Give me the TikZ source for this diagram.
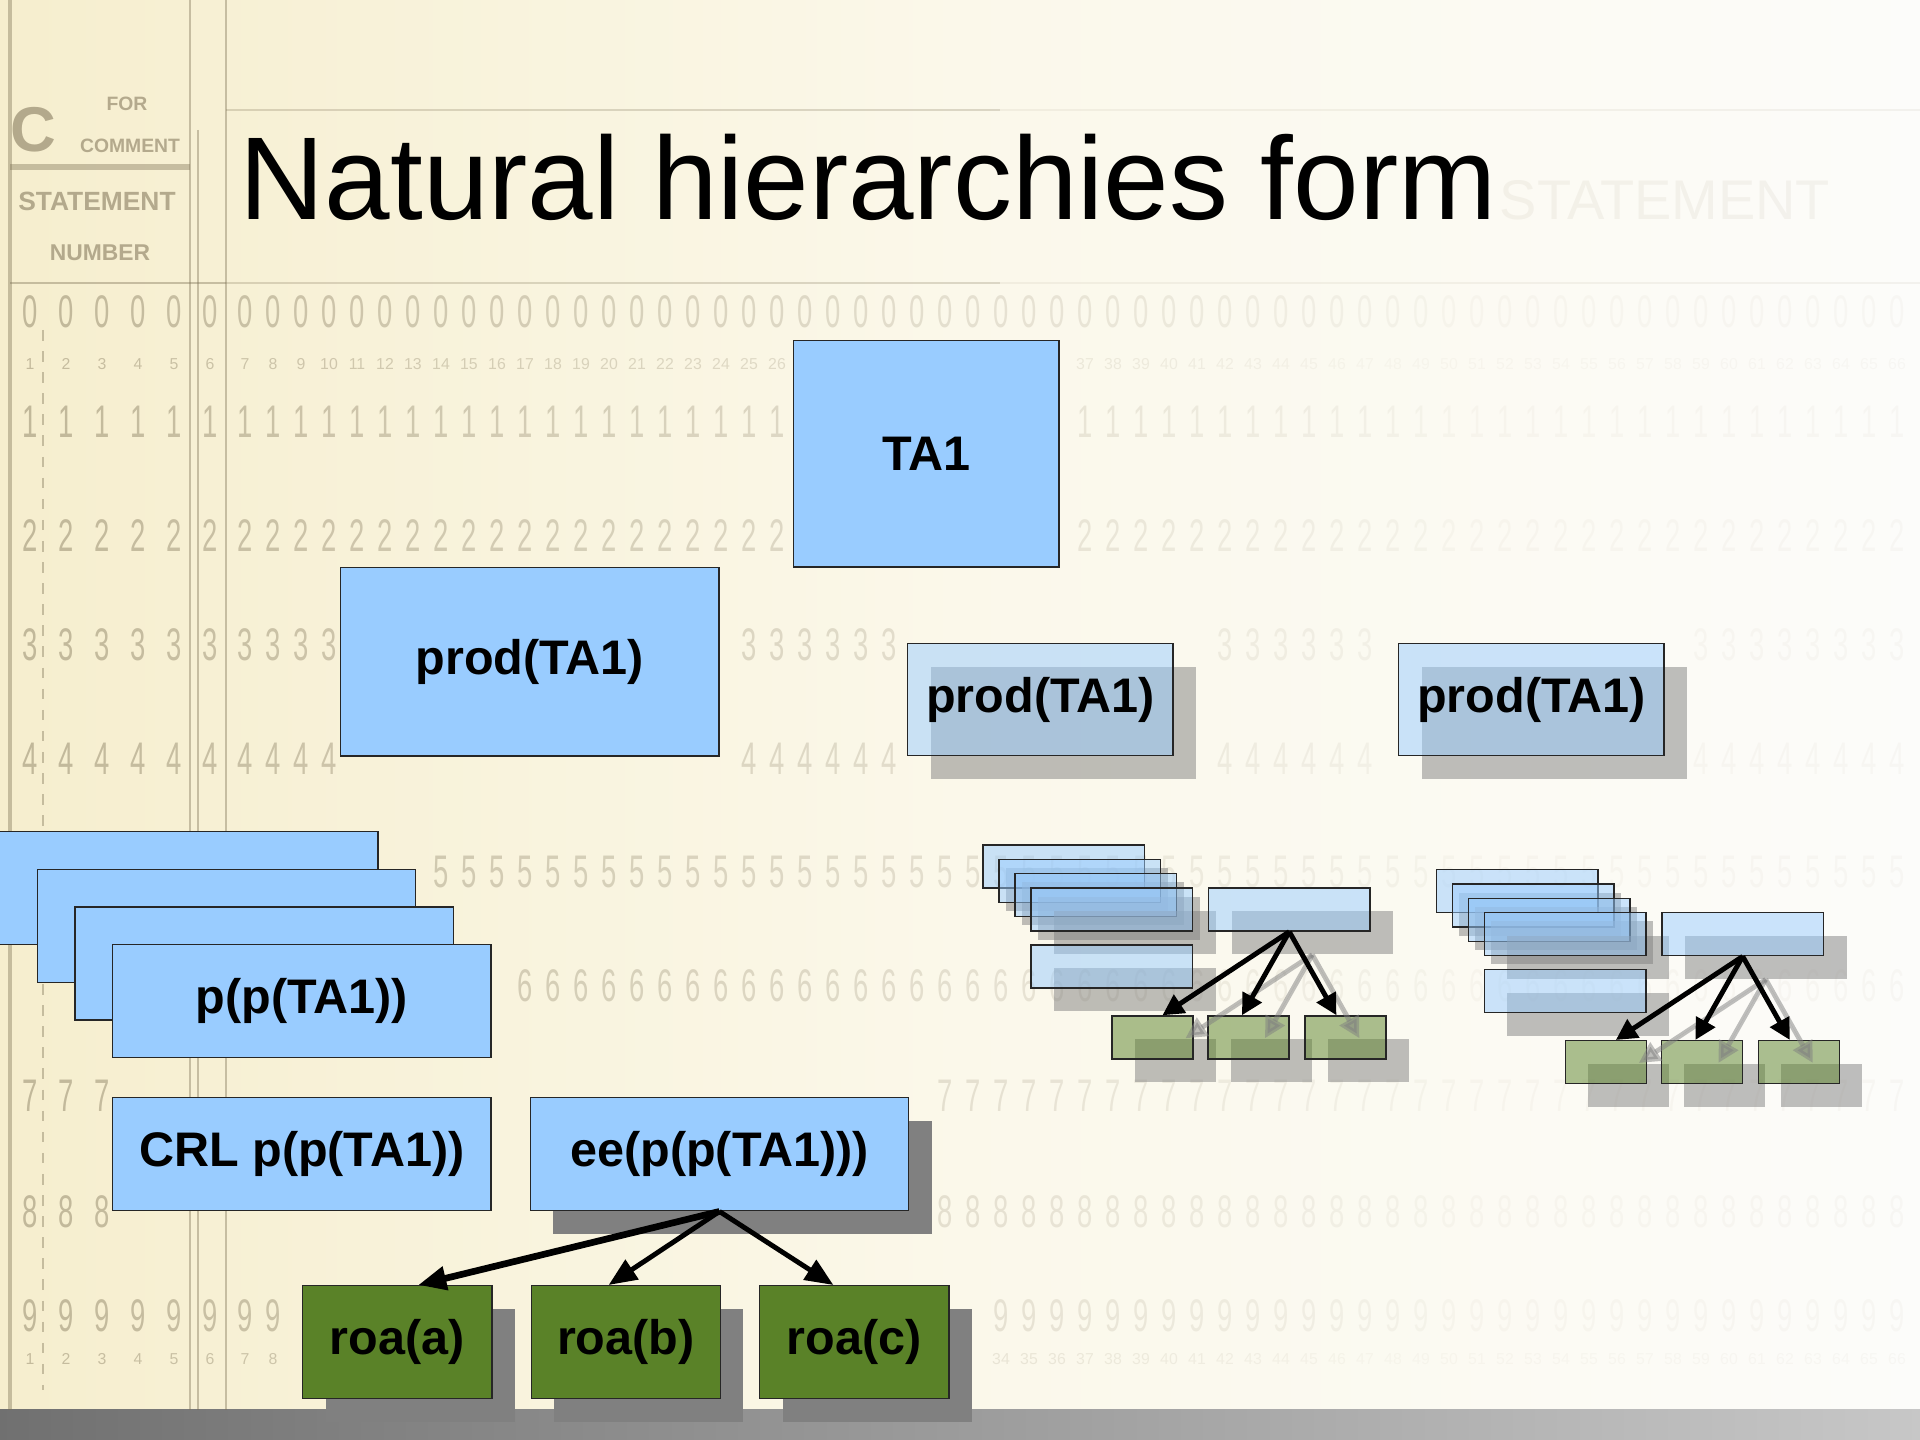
\documentclass[tikz,border=0pt]{standalone}
\usepackage{fontspec}
\setmainfont{Liberation Sans}
\usetikzlibrary{positioning,calc,shadows,arrows.meta}

\definecolor{cream}{RGB}{246,238,206}
\definecolor{creamlight}{RGB}{251,248,234}
\definecolor{paper}{RGB}{252,252,250}
\definecolor{cardink}{RGB}{125,113,85}
\definecolor{certblue}{RGB}{153,204,255}
\definecolor{roagreen}{RGB}{90,130,40}
\definecolor{shadowgray}{RGB}{128,128,128}

\tikzset{
  cert/.style={draw=black!85, line width=0.4pt, fill=certblue, inner sep=0pt,
    font=\bfseries\fontsize{13.8}{16}\selectfont},
  certwide/.style={cert, minimum width=3.78cm, minimum height=1.13cm},
  roa/.style={cert, fill=roagreen, minimum width=1.89cm, minimum height=1.13cm},
  shadowed/.style={drop shadow={shadow xshift=0.23cm, shadow yshift=-0.23cm,
    fill=shadowgray, opacity=1}},
  faded/.style={fill opacity=0.5, text opacity=1,
    drop shadow={shadow xshift=0.23cm, shadow yshift=-0.23cm, fill=shadowgray, opacity=0.5}},
  mini/.style={cert, faded, minimum width=1.615cm, minimum height=0.43cm},
  minileaf/.style={cert, faded, fill=roagreen, minimum width=0.81cm, minimum height=0.43cm},
  tree arrow/.style={-{Triangle[length=8pt,width=6.5pt]}, line width=1.4pt},
  mini arrow/.style={-{Triangle[length=6pt,width=6pt]}, line width=1.4pt},
  ghost arrow/.style={mini arrow, draw=shadowgray, fill=shadowgray, opacity=0.5},
  digit/.style={text=cardink, inner sep=0pt, font=\fontsize{13}{13}\selectfont,
    xscale=0.6, transform shape},
  colnum/.style={text=cardink, inner sep=0pt, font=\fontsize{4.5}{5}\selectfont},
  cardline/.style={draw=cardink, line width=0.8pt}
}

% 1 if the card digit at (#1,#2) lies under one of the certificates
\pgfmathdeclarefunction{undercert}{2}{%
  \pgfmathparse{(#1>783)*(#1<1068)*(#2>320)*(#2<586)
    + (#1>330)*(#1<728)*(#2>547)*(#2<775)
    + (#1>897)*(#1<1205)*(#2>623)*(#2<798)
    + (#1>1388)*(#1<1696)*(#2>623)*(#2<798)
    + (#1<387)*(#2>811)*(#2<964)
    + (#1>27)*(#1<426)*(#2>849)*(#2<1002)
    + (#1>65)*(#1<463)*(#2>887)*(#2<1040)
    + (#1>102)*(#1<501)*(#2>924)*(#2<1078)
    + (#1>102)*(#1<501)*(#2>1077)*(#2<1229)
    + (#1>518)*(#1<940)*(#2>1077)*(#2<1252)
    + (#1>292)*(#1<977)*(#2>1265)*(#2<1441)}%
}

% shrunken copy of the tree: #1,#2 = top left corner, #3 = name prefix
\newcommand{\minitree}[3]{%
\begin{scope}[shift={(#1,#2)}]
  \node[mini, anchor=north west] (#3b1) at (0,0) {};
  \node[mini, anchor=north west] (#3b2) at (16,14.3) {};
  \node[mini, anchor=north west] (#3b3) at (32,28.7) {};
  \node[mini, anchor=north west] (#3b4) at (48,43) {};
  \node[mini, anchor=north west] (#3b5) at (48,100) {};
  \node[mini, anchor=north west] (#3p) at (225.5,43) {};
  \node[minileaf, anchor=north west] (#3g1) at (129,171) {};
  \node[minileaf, anchor=north west] (#3g2) at (225,171) {};
  \node[minileaf, anchor=north west] (#3g3) at (322,171) {};
\end{scope}
\coordinate (#3t1) at ($(#3g1.north west)!0.62!(#3g1.north east)$);
\coordinate (#3t2) at ($(#3g2.north west)!0.42!(#3g2.north east)$);
\coordinate (#3t3) at ($(#3g3.north west)!0.39!(#3g3.north east)$);
\foreach \leaf in {1,2,3}
  \draw[ghost arrow] ([shift={(23,23)}]#3p.south) -- ([shift={(23,23)}]#3t\leaf);
\foreach \leaf in {1,2,3}
  \draw[mini arrow] (#3p.south) -- (#3t\leaf);
}

\begin{document}
\begin{tikzpicture}[x=0.01cm, y=-0.01cm]
\useasboundingbox (0,0) rectangle (1920,1440);

% punch card background
\shade[left color=cream, right color=paper, middle color=creamlight] (0,0) rectangle (1920,1410);
\shade[left color=black!56, right color=black!22] (0,1410) rectangle (1920,1440);
\begin{scope}[opacity=0.4]
  \draw[cardline, line width=1.2pt] (10,0) -- (10,1410);
  \draw[cardline, dashed] (43,330) -- (43,1390);
  \draw[cardline] (190,0) -- (190,1410);
  \draw[cardline] (198,130) -- (198,1410);
  \draw[cardline] (226,0) -- (226,1410);
  \draw[cardline, line width=1.6pt] (10,167) -- (190,167);
  \draw[cardline] (10,283) -- (226,283);
\end{scope}
\draw[cardline, opacity=0.25] (226,110) -- (1000,110);
\draw[cardline, opacity=0.08] (1000,110) -- (1920,110);
\draw[cardline, opacity=0.25] (226,283) -- (1000,283);
\draw[cardline, opacity=0.08] (1000,283) -- (1920,283);
\begin{scope}[opacity=0.55, text=cardink, inner sep=0pt]
  \node[font=\bfseries\fontsize{18}{18}\selectfont] (cardC) at (33,130) {C};
  \node[font=\bfseries\fontsize{5.5}{6}\selectfont] (cardfor) at (127,104) {FOR};
  \node[font=\bfseries\fontsize{5.5}{6}\selectfont] (cardcom) at (130,146) {COMMENT};
  \node[font=\bfseries\fontsize{7.5}{8}\selectfont] (cardstat) at (97,201) {STATEMENT};
  \node[font=\bfseries\fontsize{6.5}{7}\selectfont] (cardnum) at (100,253) {NUMBER};
\end{scope}
\node[anchor=base west, inner sep=0pt, text=cardink, opacity=0.07,
  font=\fontsize{15.9}{16}\selectfont] (cardhead) at (1499,220) {STATEMENT};
\foreach \r/\yy in {0/312,1/422,2/536,3/645,4/759,5/872,6/986,7/1096,8/1212,9/1316} {
  \foreach \cx [evaluate=\cx as \op using {max(0.04,0.44-0.00028*\cx)}] in {30,66,102,138,174,210,245,273,...,1900} {
    \pgfmathparse{undercert(\cx,\yy)}
    \ifdim\pgfmathresult pt<0.5pt \node[digit, opacity=\op] at (\cx,\yy) {\r};\fi
  }
}
\foreach \cx [count=\c, evaluate=\cx as \op using {max(0.04,0.42-0.00028*\cx)}] in {30,66,102,138,174,210,245,273,...,1900} {
  \foreach \yy in {364,1359} {
    \pgfmathparse{undercert(\cx,\yy)}
    \ifdim\pgfmathresult pt<0.5pt \node[colnum, opacity=\op] at (\cx,\yy) {\c};\fi
  }
}

\node[anchor=base west, inner sep=0pt, font=\fontsize{33.5}{40}\selectfont] (title) at (239,220) {Natural hierarchies form};

% trust anchor and products
\node[cert, anchor=north west, minimum width=2.65cm, minimum height=2.26cm] (ta) at (793,340) {TA1};
\node[cert, anchor=north west, minimum width=3.78cm, minimum height=1.88cm] (prodL) at (340,567) {prod(TA1)};
\node[cert, faded, anchor=north west, minimum width=2.65cm, minimum height=1.12cm] (prodM) at (907,643) {prod(TA1)};
\node[cert, faded, anchor=north west, minimum width=2.65cm, minimum height=1.12cm] (prodR) at (1398,643) {prod(TA1)};

% stacked p(p(TA1))
\foreach \i in {1,2,3}
  \node[certwide, anchor=north west] (pp\i) at ({-1+37.7*(\i-1)},{831+37.7*(\i-1)}) {};
\node[certwide, anchor=north west] (pp4) at (112,944) {p(p(TA1))};
\node[certwide, anchor=north west] (crl) at (112,1097) {CRL p(p(TA1))};
\node[certwide, shadowed, right=0.38cm of crl] (ee) {ee(p(p(TA1)))};

% roas
\node[roa, shadowed, anchor=north west] (roaA) at (302,1285) {roa(a)};
\node[roa, shadowed, right=0.38cm of roaA] (roaB) {roa(b)};
\node[roa, shadowed, right=0.38cm of roaB] (roaC) {roa(c)};
\coordinate (tA) at ($(roaA.north west)!0.61!(roaA.north east)$);
\coordinate (tB) at ($(roaB.north west)!0.41!(roaB.north east)$);
\coordinate (tC) at ($(roaC.north west)!0.39!(roaC.north east)$);
\draw[tree arrow, line width=1.9pt] (ee.south) -- (tA);
\draw[tree arrow] (ee.south) -- (tB);
\draw[tree arrow] (ee.south) -- (tC);

% the other two trees, faded
\minitree{982.3}{844.3}{treeM}
\minitree{1435.7}{869}{treeR}
\end{tikzpicture}
\end{document}
